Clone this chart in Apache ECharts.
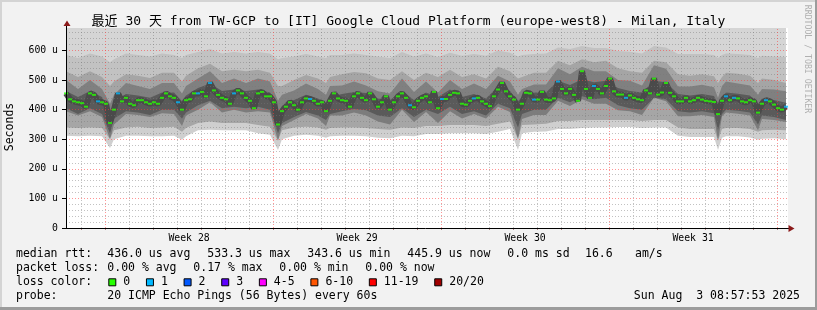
<!DOCTYPE html>
<html><head><meta charset="utf-8">
<script src="https://cdn.jsdelivr.net/npm/echarts@6.0.0/dist/echarts.min.js"></script>
<style>html,body{margin:0;padding:0;background:#f2f2f2;}#c{width:817px;height:310px;}</style>
</head><body><div id="c"></div>
<script>
// ---------- text ----------
const TITLE = '最近 30 天 from TW-GCP to [IT] Google Cloud Platform (europe-west8) - Milan, Italy';
const Y_NAME = 'Seconds';
const SIDE_TEXT = 'RRDTOOL / TOBI OETIKER';
const DATE_TEXT = 'Sun Aug  3 08:57:53 2025';

// ---------- axes ----------
const yTickValues = [0, 100, 200, 300, 400, 500, 600];
const Y_MAX = 676;
const X_MAX = 722;                       // hours shown across the plot
const weekLabels = ['Week 28', 'Week 29', 'Week 30', 'Week 31'];
const weekCenterHours = [123.035, 291.035, 459.035, 627.035];
const firstMidnightHour = 15.035;        // Jul 5 00:00 after start Jul 4 08:57:53
const firstSundayHour = 39.035;          // Jul 6 00:00

// ---------- median rtt (u), every 4 hours ----------
const STEP = 4;
const median = [
 455,435,428,425,422,410,455,450,428,425,420,355,400,455,428,440,420,415,432,432,425,420,425,420,440,455,445,440,425,400,432,435,455,455,460,445,490,465,450,440,435,420,455,465,455,440,
 430,405,455,460,445,445,425,350,395,410,425,415,400,425,438,436,430,420,425,395,430,455,438,432,430,410,445,455,440,432,455,435,410,425,445,400,425,445,455,440,415,408,430,440,445,
 425,460,405,436,436,450,457,455,420,417,430,438,440,428,420,412,445,468,490,462,445,434,400,420,457,455,434,434,460,434,432,438,495,470,455,470,450,430,530,470,440,480,470,455,480,
 505,462,451,451,440,448,440,435,432,465,455,505,451,458,490,457,445,428,428,440,428,432,440,434,430,428,426,385,430,445,432,440,438,428,425,432,428,390,420,432,428,417,405,400,410
];
// hours where the median shows loss colour "1"
const lossOneHours = [32,52,112,132,144,168,244,344,376,408,468,492,528,560,660,668,700,720];

// ---------- smoke bands (u), edges from top to bottom ----------
const bandHours = [0,12,24,36,44,48,60,72,84,96,108,116,120,132,144,156,168,180,192,204,212,216,228,240,252,260,264,276,288,300,312,324,336,348,360,372,384,396,408,420,432,444,452,456,468,480,492,504,516,528,540,552,564,576,588,600,612,624,636,648,652,656,660,672,684,692,696,708,720];
const midHi   = [585,575,590,580,560,570,590,585,580,590, 585,575,585,595,605,590,595,590,595,590, 570,575,580,588,580,575,585,585,590,585, 580,575,595,580,590,578,592,582,588,582, 600,592,580,585,588,590,610,605,615,608, 608,598,596,590,615,610,588,588,588,585, 575,585,590,588,585,575,582,580,578];
const upperHi = [530,510,530,510,480,495,520,515,507,525, 525,495,515,540,555,530,535,530,535,525, 480,480,500,517,505,490,510,520,527,523, 505,500,530,500,525,510,535,510,520,505, 545,530,505,510,525,525,565,550,570,560, 565,540,530,525,565,560,520,515,520,513, 490,510,525,521,515,490,505,500,490];
const darkHi  = [500,470,500,470,420,450,490,480,470,490, 490,455,480,505,530,490,505,490,505,495, 430,450,465,488,470,450,480,482,495,482, 462,455,505,460,495,458,500,470,488,470, 515,495,450,470,485,485,540,520,545,530, 530,500,498,482,550,538,478,478,484,476, 440,480,495,488,482,450,470,468,462];
const coreHi  = [463,443,463,443,388,428,453,448,440,458, 458,428,448,473,488,463,468,463,468,458, 388,413,433,450,438,423,443,453,460,456, 438,433,463,433,458,443,468,443,453,438, 478,463,428,443,458,458,498,483,503,493, 498,473,463,458,498,493,453,448,453,446, 418,443,458,454,448,418,438,433,423];
const coreLo  = [405,385,405,385,320,370,395,390,382,400, 400,370,390,415,430,405,410,405,410,400, 320,355,375,392,380,365,385,395,402,398, 380,375,405,375,400,385,410,385,395,380, 420,405,340,385,400,400,440,425,445,435, 440,415,405,400,440,435,395,390,395,388, 330,385,400,396,390,350,380,375,365];
const darkLo  = [395,380,395,375,300,350,385,382,375,388, 385,345,380,400,425,390,400,390,395,390, 295,345,365,385,370,345,380,380,390,380, 360,350,400,358,392,355,395,370,385,370, 410,392,300,368,382,382,430,412,435,420, 420,398,395,382,440,428,378,378,382,375, 295,378,390,386,380,330,368,365,358];
const midLo   = [340,338,340,338,300,330,340,342,338,340, 342,325,338,355,360,355,355,355,348,342, 295,330,340,342,340,332,338,340,340,338, 335,332,340,338,345,345,348,348,348,345, 352,360,300,348,350,352,362,362,365,365, 365,365,365,362,365,365,340,335,335,335, 295,335,338,338,335,325,330,332,330];
const smokeLo = [312,310,312,310,270,300,312,312,310,310, 312,298,310,330,332,330,330,330,320,315, 264,300,312,315,312,305,310,312,312,310, 305,303,312,310,318,318,320,320,320,318, 325,335,264,320,325,326,335,335,338,340, 340,341,341,338,340,340,312,308,308,308, 264,305,310,310,306,298,302,303,300];

// ---------- legend ----------
const statRow1 = ['436.0 us avg', '533.3 us max', '343.6 us min', '445.9 us now', '0.0 ms sd', '16.6', 'am/s'];
const statRow1X = [107.3, 207.3, 307.3, 407.3, 507.3, 585, 635];
const statRow2 = ['0.00 % avg', '0.17 % max', '0.00 % min', '0.00 % now'];
const statRow2X = [107.3, 193.3, 279.3, 365.3];
const lossLabels = ['0', '1', '2', '3', '4-5', '6-10', '11-19', '20/20'];
const lossColors = ['#26ff00', '#00b8ff', '#0059ff', '#5e00ff', '#ff00ff', '#ff5500', '#ff0000', '#a10000'];
const probeText = '20 ICMP Echo Pings (56 Bytes) every 60s';

// ---------- build ----------
const MONO = "'DejaVu Sans Mono', monospace";
const hours = median.map((_, i) => i * STEP);
const medianData = median.map((v, i) => [hours[i], v]);
const lossSet = new Set(lossOneHours);

// painter-style smoke: each edge filled down to the axis, later layers cover earlier ones
function fillUnder(arr, color) {
  const vals = Array.isArray(arr) ? arr : bandHours.map(() => arr);
  return {type: 'line', z: 2, silent: true, symbol: 'none', lineStyle: {width: 0},
    areaStyle: {color: color, opacity: 1, origin: 'start'},
    data: bandHours.map((h, i) => [h, vals[i]])};
}

const minorStyle = {color: 'rgba(120,120,120,0.45)', type: [1, 2], width: 1};
const majorStyle = {color: 'rgba(255,60,60,0.55)', type: [1, 2], width: 1};
const gridLines = [];
for (let v = 20; v < Y_MAX; v += 20) {
  if (v % 100 !== 0) gridLines.push({yAxis: v, lineStyle: minorStyle});
}
yTickValues.forEach(v => { if (v > 0) gridLines.push({yAxis: v, lineStyle: majorStyle}); });
for (let h = firstMidnightHour; h < X_MAX; h += 24) {
  const isWeek = Math.abs(((h - firstSundayHour) % 168 + 168) % 168) < 0.01;
  gridLines.push({xAxis: h, lineStyle: isWeek ? majorStyle : minorStyle});
}
const midnights = [];
for (let h = firstMidnightHour; h < X_MAX; h += 24) midnights.push(h);

const series = [
  fillUnder(Y_MAX, '#d5d5d5'),
  fillUnder(midHi, '#c2c2c2'),
  fillUnder(upperHi, '#a5a5a5'),
  fillUnder(darkHi, '#808080'),
  fillUnder(coreHi, '#5a5a5a'),
  fillUnder(coreLo, '#7c7c7c'),
  fillUnder(darkLo, '#a6a6a6'),
  fillUnder(midLo, '#cfcfcf'),
  fillUnder(smokeLo, '#ffffff'),
  {type: 'line', z: 3, silent: true, symbol: 'none', data: medianData,
   lineStyle: {width: 6, color: '#4a4a4a', join: 'bevel'}},
  {type: 'line', z: 4, silent: true, symbol: 'none', data: [],
   markLine: {silent: true, symbol: ['none', 'none'], label: {show: false}, animation: false, data: gridLines}},
  {type: 'scatter', z: 5, silent: true, symbol: 'rect', symbolSize: [4, 2], data: medianData,
   itemStyle: {color: p => lossSet.has(p.data[0]) ? '#00b8ff' : '#26ff00'}}
];

// legend graphics
const g = [];
const txt = (x, y, s, extra) => Object.assign({type: 'text', x: x, y: y,
  style: {text: s, font: '11.5px ' + MONO, fill: '#000', textVerticalAlign: 'middle'}}, extra || {});
// frame
g.push({type: 'rect', shape: {x: 0, y: 0, width: 817, height: 2}, style: {fill: '#d4d4d4'}});
g.push({type: 'rect', shape: {x: 0, y: 0, width: 2, height: 310}, style: {fill: '#d4d4d4'}});
g.push({type: 'rect', shape: {x: 0, y: 307, width: 817, height: 3}, style: {fill: '#9c9c9c'}});
g.push({type: 'rect', shape: {x: 815, y: 0, width: 2, height: 310}, style: {fill: '#9c9c9c'}});
// title
g.push({type: 'text', x: 408.5, y: 21.5, style: {text: TITLE, font: "13px 'DejaVu Sans Mono', 'Noto Sans CJK SC', monospace",
  fill: '#000', textAlign: 'center', textVerticalAlign: 'middle'}});
// y name
g.push({type: 'text', x: 10.5, y: 127, rotation: Math.PI / 2, style: {text: Y_NAME, font: '11.5px ' + MONO,
  fill: '#000', textAlign: 'center', textVerticalAlign: 'middle'}});
// side text
g.push({type: 'text', x: 807.5, y: 59, rotation: -Math.PI / 2, style: {text: SIDE_TEXT, font: '8.2px ' + MONO,
  fill: '#b0b0b0', textAlign: 'center', textVerticalAlign: 'middle'}});
// axis arrows
g.push({type: 'line', shape: {x1: 66.5, y1: 22, x2: 66.5, y2: 28}, style: {stroke: '#000', lineWidth: 1}, z: 10});
g.push({type: 'polygon', shape: {points: [[67, 20.5], [63.5, 26], [70.5, 26]]}, style: {fill: '#8b1a1a'}, z: 11});
g.push({type: 'line', shape: {x1: 62, y1: 228.5, x2: 789, y2: 228.5}, style: {stroke: '#000', lineWidth: 1}, z: 10});
g.push({type: 'polygon', shape: {points: [[794.5, 228.5], [788.5, 225], [788.5, 232]]}, style: {fill: '#8b1a1a'}, z: 11});
// legend rows
const rowY = [254.3, 268.3, 282.3, 296.3];
g.push(txt(16, rowY[0], 'median rtt:'));
statRow1.forEach((s, i) => g.push(txt(statRow1X[i], rowY[0], s)));
g.push(txt(16, rowY[1], 'packet loss:'));
statRow2.forEach((s, i) => g.push(txt(statRow2X[i], rowY[1], s)));
g.push(txt(16, rowY[2], 'loss color:'));
let bx = 108.3;
lossLabels.forEach((s, i) => {
  g.push({type: 'rect', shape: {x: bx + 0.5, y: rowY[2] - 3.5, width: 7, height: 7},
    style: {fill: lossColors[i], stroke: '#000', lineWidth: 1}});
  g.push(txt(bx + 15, rowY[2], s));
  bx = bx + 15 + s.length * 6.94 + 15.7;
});
g.push(txt(16, rowY[3], 'probe:'));
g.push(txt(107.3, rowY[3], probeText));
g.push(txt(800, rowY[3], DATE_TEXT, {style: {text: DATE_TEXT, font: '11.5px ' + MONO, fill: '#000',
  textAlign: 'right', textVerticalAlign: 'middle'}}));

const option = {
  backgroundColor: '#f2f2f2',
  animation: false,
  grid: {left: 66, top: 28, width: 722, height: 200, show: true, backgroundColor: '#ffffff', borderWidth: 0},
  xAxis: {
    type: 'value', min: 0, max: X_MAX, z: 6,
    axisLine: {show: false},
    axisTick: {show: true, customValues: midnights, length: 2, lineStyle: {color: '#b08080'}},
    axisLabel: {show: true, customValues: weekCenterHours, margin: 5,
      fontFamily: 'DejaVu Sans Mono', fontSize: 9.8, color: '#000',
      formatter: v => { let b = 0; weekCenterHours.forEach((c, i) => { if (Math.abs(c - v) < Math.abs(weekCenterHours[b] - v)) b = i; }); return weekLabels[b]; }},
    splitLine: {show: false}
  },
  yAxis: {
    type: 'value', min: 0, max: Y_MAX, z: 6,
    axisLine: {show: true, lineStyle: {color: '#000', width: 1}},
    axisTick: {show: true, customValues: yTickValues, length: 4, lineStyle: {color: '#000'}},
    axisLabel: {show: true, customValues: yTickValues, margin: 8,
      fontFamily: 'DejaVu Sans Mono', fontSize: 9.8, color: '#000',
      formatter: v => v === 0 ? '0' : v + ' u'},
    splitLine: {show: false}
  },
  series: series,
  graphic: g
};
const chart = echarts.init(document.getElementById('c'), null, {renderer: 'canvas', width: 817, height: 310});
chart.setOption(option);
</script></body></html>
